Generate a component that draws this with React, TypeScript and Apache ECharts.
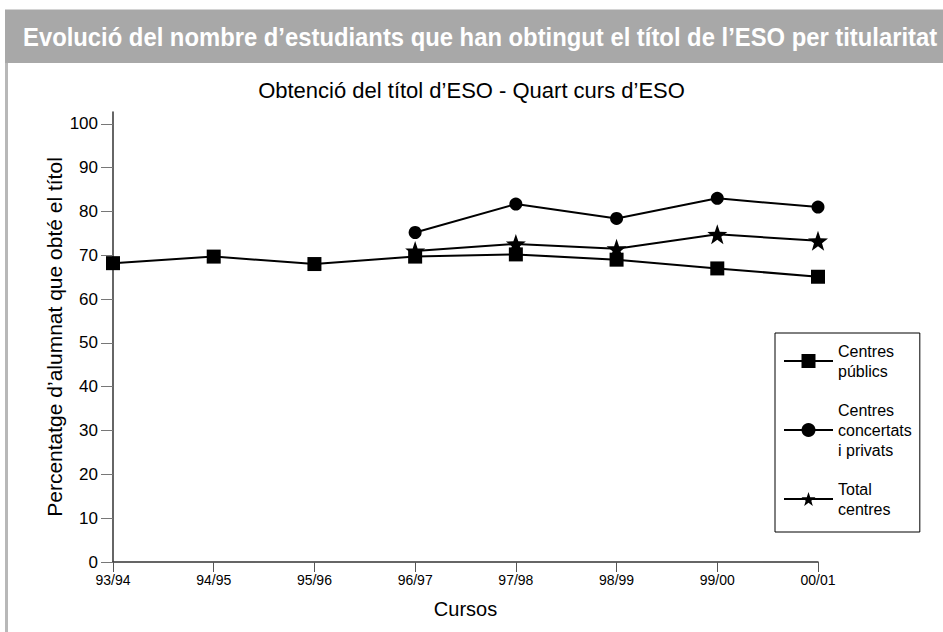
import React, { useEffect, useRef } from "react";
import * as echarts from "echarts";

const cursos = ["93/94", "94/95", "95/96", "96/97", "97/98", "98/99", "99/00", "00/01"];
const publics = [68.2, 69.7, 68.0, 69.7, 70.2, 69.0, 67.0, 65.1];
const concertats = [null, null, null, 75.2, 81.7, 78.4, 83.0, 81.0];
const total = [null, null, null, 71.0, 72.6, 71.5, 74.8, 73.3];
const yTicks = [0, 10, 20, 30, 40, 50, 60, 70, 80, 90, 100];

const seriesNames = ["Centres públics", "Centres concertats i privats", "Total centres"];
const legendLabels: Record<string, string> = {
  "Centres públics": "Centres\npúblics",
  "Centres concertats i privats": "Centres\nconcertats\ni privats",
  "Total centres": "Total\ncentres",
};

const headerTitle = "Evolució del nombre d’estudiants que han obtingut el títol de l’ESO per titularitat";
const chartTitle = "Obtenció del títol d’ESO - Quart curs d’ESO";
const yName = "Percentatge d’alumnat que obté el títol";
const xName = "Cursos";

const STAR =
  "path://M50,0 L61.76,33.82 L97.55,34.55 L69.02,56.18 L79.39,90.45 L50,70 L20.61,90.45 L30.98,56.18 L2.45,34.55 L38.24,33.82 Z";

const SANS = "'Liberation Sans', Arial, Helvetica, sans-serif";

export default function App() {
  const ref = useRef<HTMLDivElement>(null);
  useEffect(() => {
    if (!ref.current) return;
    const chart = echarts.init(ref.current, null, { renderer: "svg" });
    const lineSeries = (name: string, data: (number | null)[], symbol: string, size: number) => ({
      name,
      type: "line",
      data,
      symbol,
      symbolSize: size,
      showSymbol: true,
      connectNulls: false,
      itemStyle: { color: "#000" },
      lineStyle: { color: "#000", width: 2 },
      emphasis: { disabled: true },
    });
    chart.setOption({
      animation: false,
      backgroundColor: "#fff",
      title: {
        text: chartTitle,
        left: "center",
        top: 74,
        textStyle: { fontFamily: SANS, fontSize: 22, fontWeight: "normal", color: "#000" },
      },
      graphic: [
        { type: "rect", shape: { x: 5, y: 10, width: 938, height: 53 }, style: { fill: "#a8a8a8" } },
        { type: "line", shape: { x1: 5, y1: 9.5, x2: 943, y2: 9.5 }, style: { stroke: "#d4d4d4", lineWidth: 1 } },
        { type: "rect", shape: { x: 5, y: 63, width: 3, height: 569 }, style: { fill: "#b8b8b8" } },
        {
          type: "text",
          x: 23,
          y: 37,
          scaleX: 0.953,
          style: {
            text: headerTitle,
            fill: "#fff",
            font: `bold 25px ${SANS}`,
            verticalAlign: "middle",
            align: "left",
          },
        },
      ],
      legend: {
        orient: "vertical",
        left: 775,
        top: 333,
        padding: [8, 8, 13, 8],
        borderColor: "#000",
        borderWidth: 1,
        backgroundColor: "#fff",
        itemWidth: 49,
        itemHeight: 17.5,
        itemGap: 19,
        data: seriesNames,
        formatter: (n: string) => legendLabels[n] || n,
        textStyle: { fontFamily: SANS, fontSize: 16, lineHeight: 20, color: "#000" },
        selectedMode: false,
      },
      grid: { left: 113, right: 125, top: 112, bottom: 70, containLabel: false },
      xAxis: {
        type: "category",
        data: cursos,
        boundaryGap: false,
        name: xName,
        nameLocation: "middle",
        nameGap: 37,
        nameMoveOverlap: false,
        nameTextStyle: { fontFamily: SANS, fontSize: 20, color: "#000" },
        axisLine: { lineStyle: { color: "#333", width: 1.5 } },
        axisTick: { show: true, length: 10, alignWithLabel: true, lineStyle: { color: "#555" } },
        axisLabel: { fontFamily: SANS, fontSize: 14, color: "#000", margin: 11 },
        splitLine: { show: false },
      },
      yAxis: {
        type: "value",
        min: 0,
        max: 102.7,
        name: yName,
        nameLocation: "middle",
        nameGap: 48,
        nameMoveOverlap: false,
        nameTextStyle: { fontFamily: SANS, fontSize: 21, color: "#000" },
        axisLine: { show: true, lineStyle: { color: "#333", width: 1.5 } },
        axisTick: { show: true, length: 12, lineStyle: { color: "#777" }, customValues: yTicks },
        axisLabel: { fontFamily: SANS, fontSize: 17, color: "#000", margin: 15, customValues: yTicks },
        splitLine: { show: false },
      },
      series: [
        lineSeries(seriesNames[0], publics, "rect", 14),
        lineSeries(seriesNames[1], concertats, "circle", 13),
        lineSeries(seriesNames[2], total, STAR, 20),
      ],
    });
    return () => chart.dispose();
  }, []);
  return <div ref={ref} style={{ position: "fixed", left: 0, top: 0, width: 943, height: 632 }} />;
}
